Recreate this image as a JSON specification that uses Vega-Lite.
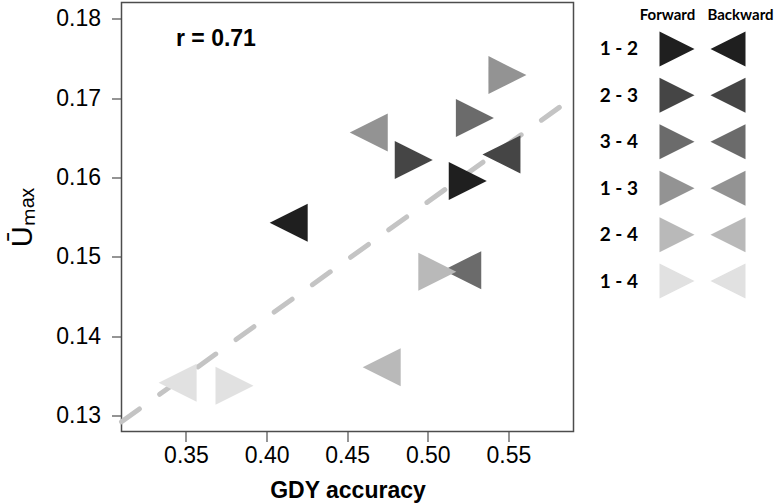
{
  "$schema": "https://vega.github.io/schema/vega-lite/v6.json",
  "background": "white",
  "padding": {"left": 7.5, "top": 1.5, "right": 0, "bottom": 0},
  "config": {
    "view": {"stroke": null},
    "font": "Liberation Sans",
    "axis": {"labelColor": "black", "titleColor": "black", "grid": false}
  },
  "datasets": {
    "points": [
      {"pair": "1 - 2", "dir": "Forward", "acc": 0.5248, "u": 0.15955},
      {"pair": "1 - 2", "dir": "Backward", "acc": 0.4137, "u": 0.15431},
      {"pair": "2 - 3", "dir": "Forward", "acc": 0.4913, "u": 0.16219},
      {"pair": "2 - 3", "dir": "Backward", "acc": 0.5457, "u": 0.16289},
      {"pair": "3 - 4", "dir": "Forward", "acc": 0.5292, "u": 0.16749},
      {"pair": "3 - 4", "dir": "Backward", "acc": 0.5214, "u": 0.14832},
      {"pair": "1 - 3", "dir": "Forward", "acc": 0.5494, "u": 0.17291},
      {"pair": "1 - 3", "dir": "Backward", "acc": 0.4634, "u": 0.16566},
      {"pair": "2 - 4", "dir": "Forward", "acc": 0.5059, "u": 0.14813},
      {"pair": "2 - 4", "dir": "Backward", "acc": 0.4714, "u": 0.13609},
      {"pair": "1 - 4", "dir": "Forward", "acc": 0.3801, "u": 0.13376},
      {"pair": "1 - 4", "dir": "Backward", "acc": 0.3448, "u": 0.13414}
    ]
  },
  "spacing": 14,
  "hconcat": [
    {
      "width": 452,
      "height": 429,
      "view": {"stroke": "#4d4d4d", "strokeWidth": 1.5},
      "data": {"name": "points"},
      "encoding": {
        "x": {
          "field": "acc", "type": "quantitative",
          "scale": {"domain": [0.31, 0.5904], "nice": false, "zero": false},
          "axis": {
            "values": [0.35, 0.4, 0.45, 0.5, 0.55], "format": ".2f",
            "title": "GDY accuracy", "domain": false,
            "tickSize": 10, "tickColor": "#4d4d4d", "tickWidth": 1.2,
            "labelFontSize": 23, "labelPadding": 3,
            "titleFontSize": 23, "titleFontWeight": "bold", "titlePadding": 12
          }
        },
        "y": {
          "field": "u", "type": "quantitative",
          "scale": {"domain": [0.12798, 0.18206], "nice": false, "zero": false},
          "axis": {
            "values": [0.13, 0.14, 0.15, 0.16, 0.17, 0.18], "format": ".2f",
            "title": "Ūₘₐₓ", "domain": false,
            "tickSize": 10, "tickColor": "#4d4d4d", "tickWidth": 1.2,
            "labelFontSize": 23, "labelPadding": 11,
            "titleFontSize": 29, "titleFontWeight": "normal", "titlePadding": 18
          }
        }
      },
      "layer": [
        {
          "transform": [{"regression": "u", "on": "acc", "extent": [0.31, 0.5904]}],
          "mark": {"type": "line", "color": "#c4c4c4", "strokeWidth": 5, "strokeDash": [22, 25], "strokeCap": "round"}
        },
        {
          "mark": {"type": "point", "filled": true, "opacity": 1, "size": 1444, "strokeWidth": 0},
          "encoding": {
            "color": {
              "field": "pair", "type": "nominal", "legend": null,
              "scale": {"domain": ["1 - 2", "2 - 3", "3 - 4", "1 - 3", "2 - 4", "1 - 4"],
                        "range": ["#1f1f1f", "#454545", "#6b6b6b", "#939393", "#b9b9b9", "#e1e1e1"]}
            },
            "shape": {
              "field": "dir", "type": "nominal", "legend": null,
              "scale": {"domain": ["Forward", "Backward"], "range": ["M-1,-1L1,0L-1,1Z", "M1,-1L-1,0L1,1Z"]}
            }
          }
        },
        {
          "data": {"values": [{"acc": 0.3438, "u": 0.1775, "label": "r = 0.71"}]},
          "mark": {"type": "text", "align": "left", "baseline": "middle", "fontWeight": "bold", "fontSize": 23, "color": "black"},
          "encoding": {"text": {"field": "label"}}
        }
      ]
    },
    {
      "width": 102,
      "height": 325,
      "data": {"name": "points"},
      "mark": {"type": "point", "filled": true, "opacity": 1, "size": 1225, "strokeWidth": 0},
      "encoding": {
        "x": {
          "field": "dir", "type": "nominal",
          "scale": {"type": "point", "domain": ["Forward", "Backward"], "padding": 0.5},
          "axis": {
            "orient": "top", "title": null, "domain": false, "ticks": false, "labelAngle": 0,
            "labelFont": "Lato", "labelFontSize": 15, "labelFontWeight": "bold",
            "labelPadding": 0, "offset": -20,
            "labelOffset": {"condition": {"test": "datum.value === 'Forward'", "value": -10}, "value": 12}
          }
        },
        "y": {
          "field": "pair", "type": "nominal",
          "scale": {"type": "point", "domain": ["1 - 2", "2 - 3", "3 - 4", "1 - 3", "2 - 4", "1 - 4"], "padding": 1.15},
          "axis": {
            "title": null, "domain": false, "ticks": false,
            "labelFont": "Lato", "labelFontSize": 19, "labelFontWeight": "bold", "labelPadding": 14
          }
        },
        "color": {
          "field": "pair", "type": "nominal", "legend": null,
          "scale": {"domain": ["1 - 2", "2 - 3", "3 - 4", "1 - 3", "2 - 4", "1 - 4"],
                    "range": ["#1f1f1f", "#454545", "#6b6b6b", "#939393", "#b9b9b9", "#e1e1e1"]}
        },
        "shape": {
          "field": "dir", "type": "nominal", "legend": null,
          "scale": {"domain": ["Forward", "Backward"], "range": ["M-1,-1L1,0L-1,1Z", "M1,-1L-1,0L1,1Z"]}
        }
      }
    }
  ]
}
